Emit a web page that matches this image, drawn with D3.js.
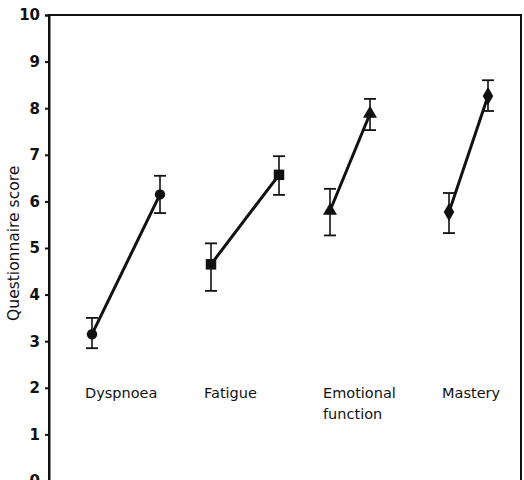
<!DOCTYPE html>
<html>
<head>
<meta charset="utf-8">
<script src="https://cdn.jsdelivr.net/npm/d3@7"></script>
<style>
  body { margin: 0; background: #fff; }
  text { font-family: "DejaVu Sans", sans-serif; fill: #111; }
</style>
</head>
<body>
<svg width="524" height="480"></svg>
<script>
// questionnaire scores, before and after
var categories = ['Dyspnoea', 'Fatigue', 'Emotional function', 'Mastery'];
var beforeMean = [3.15, 4.65, 5.8, 5.77];
var beforeLow  = [2.85, 4.08, 5.27, 5.32];
var beforeHigh = [3.5, 5.1, 6.27, 6.18];
var afterMean  = [6.15, 6.57, 7.88, 8.26];
var afterLow   = [5.75, 6.14, 7.53, 7.94];
var afterHigh  = [6.55, 6.97, 8.2, 8.6];
var yTicks = [0, 1, 2, 3, 4, 5, 6, 7, 8, 9, 10];

var svg = d3.select('svg');

var y = d3.scaleLinear().domain([0, 10]).range([481, 15]);
var x = d3.scaleBand().domain(categories).range([49, 525]);
var gap = [68, 68, 40, 39];   // distance before -> after
var shapes = [d3.symbolCircle, d3.symbolSquare, d3.symbolTriangle, d3.symbolDiamond];
var sizes = [85, 110, 85, 95];

var data = categories.map(function(c, i){
  var x0 = x(c) + 43;
  return {
    cat: c, i: i,
    pts: [
      {x: x0, m: beforeMean[i], lo: beforeLow[i], hi: beforeHigh[i]},
      {x: x0 + gap[i], m: afterMean[i], lo: afterLow[i], hi: afterHigh[i]}
    ]
  };
});

// frame
svg.append('rect')
  .attr('x', 49).attr('y', 15).attr('width', 472).attr('height', 466)
  .attr('fill', 'none').attr('stroke', '#111').attr('stroke-width', 2);

var yAxis = svg.append('g')
  .attr('transform', 'translate(49,0)')
  .call(d3.axisLeft(y).tickValues(yTicks).tickSize(4).tickPadding(5));
yAxis.select('.domain').attr('stroke', '#111').attr('stroke-width', 2);
yAxis.selectAll('line').attr('stroke', '#111').attr('stroke-width', 2);
yAxis.selectAll('text')
  .style('font-family', '"DejaVu Sans", sans-serif')
  .style('font-size', '15px').style('font-weight', '600').attr('fill', '#111');

svg.append('text')
  .attr('transform', 'translate(19,' + y(5.1) + ') rotate(-90)')
  .attr('text-anchor', 'middle')
  .style('font-size', '15.5px')
  .text('Questionnaire score');

var g = svg.selectAll('.cat').data(data).join('g').attr('class', 'cat');

// connecting lines
g.append('line')
  .attr('x1', d => d.pts[0].x).attr('y1', d => y(d.pts[0].m))
  .attr('x2', d => d.pts[1].x).attr('y2', d => y(d.pts[1].m))
  .attr('stroke', '#111').attr('stroke-width', 3);

// error bars
var eb = g.selectAll('.eb').data(d => d.pts).join('g').attr('class', 'eb');
eb.append('line')
  .attr('x1', d => d.x).attr('x2', d => d.x)
  .attr('y1', d => y(d.lo)).attr('y2', d => y(d.hi))
  .attr('stroke', '#111').attr('stroke-width', 1.6);
eb.selectAll('.cap').data(d => [d.lo, d.hi].map(v => ({x: d.x, v: v}))).join('line')
  .attr('class', 'cap')
  .attr('x1', d => d.x - 6).attr('x2', d => d.x + 6)
  .attr('y1', d => y(d.v)).attr('y2', d => y(d.v))
  .attr('stroke', '#111').attr('stroke-width', 1.8);

// markers
g.each(function(d){
  d3.select(this).selectAll('.mk').data(d.pts).join('path')
    .attr('class', 'mk')
    .attr('transform', p => 'translate(' + p.x + ',' + y(p.m) + ')')
    .attr('d', d3.symbol().type(shapes[d.i]).size(sizes[d.i]))
    .attr('fill', '#111');
});

// category labels
g.append('text')
  .attr('x', d => d.pts[0].x - 7)
  .attr('y', 398)
  .style('font-size', '14.5px')
  .each(function(d){
    var words = d.cat.split(' ');
    var t = d3.select(this);
    words.forEach(function(w, k){
      t.append('tspan').attr('x', d.pts[0].x - 7).attr('dy', k ? 21 : 0).text(w);
    });
  });
</script>
</body>
</html>
